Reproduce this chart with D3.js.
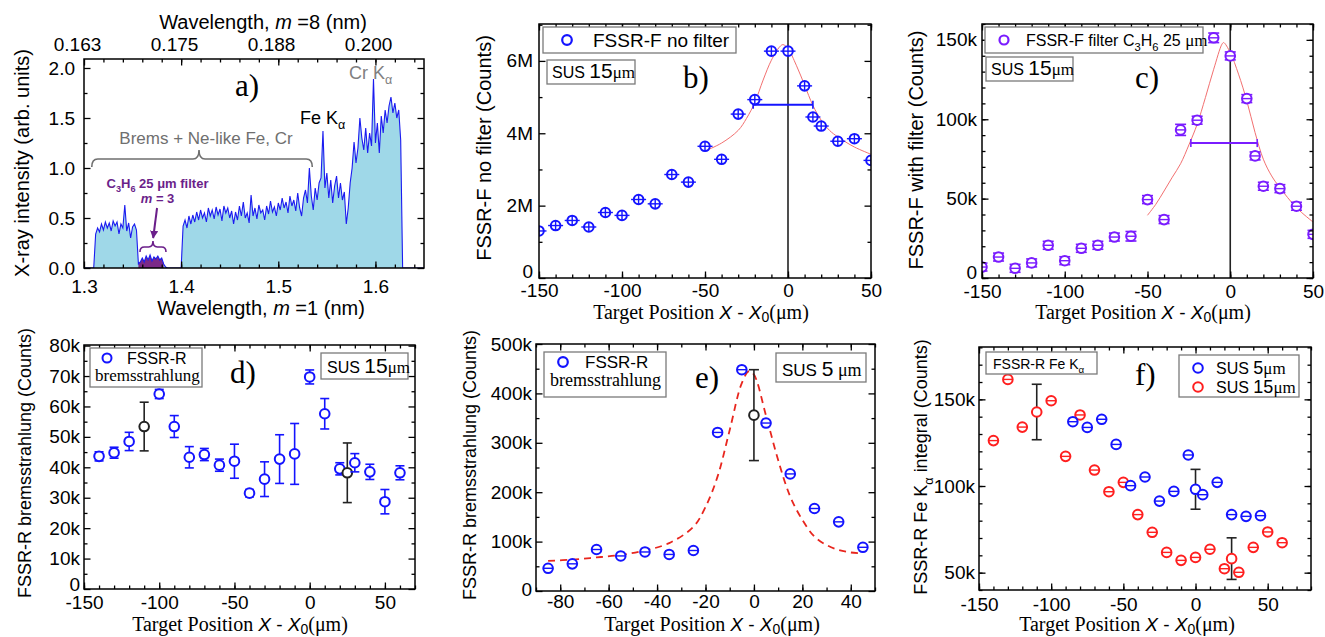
<!DOCTYPE html>
<html>
<head>
<meta charset="utf-8">
<script src="https://cdn.jsdelivr.net/npm/d3@7"></script>
<style>
  body { margin: 0; background: #fff; }
</style>
</head>
<body>
<svg id="fig" width="1325" height="637"></svg>
<script>
var SANS = '"Liberation Sans", Arial, sans-serif';
var SERIF = '"Liberation Serif", "Times New Roman", serif';

/* ---------- data ---------- */
// a) spectrum, m = 1 wavelength (nm) starting at specStart, one value per specStep
var specStart = 1.300, specStep = 0.002;
var specIntensity = [
  0, 0, 0, 0, 0, 0, 0.34, 0.40, 0.36, 0.44, 0.38, 0.46, 0.40, 0.45, 0.37, 0.47,
  0.42, 0.46, 0.34, 0.44, 0.40, 0.63, 0.37, 0.45, 0.30, 0.41, 0.44, 0.38, 0.04, 0.06,
  0.10, 0.06, 0.12, 0.08, 0.13, 0.07, 0.11, 0.09, 0.12, 0.08, 0.10, 0.04, 0.01, 0,
  0, 0, 0, 0, 0, 0, 0, 0.42, 0.48, 0.40, 0.52, 0.44, 0.53, 0.46, 0.56, 0.48,
  0.58, 0.50, 0.55, 0.46, 0.60, 0.52, 0.58, 0.49, 0.61, 0.53, 0.59, 0.47, 0.62, 0.55,
  0.60, 0.50, 0.57, 0.44, 0.56, 0.48, 0.62, 0.52, 0.66, 0.50, 0.55, 0.45, 0.73, 0.52,
  0.60, 0.49, 0.63, 0.55, 0.58, 0.48, 0.62, 0.54, 0.67, 0.56, 0.61, 0.52, 0.65, 0.58,
  0.70, 0.60, 0.66, 0.55, 0.72, 0.62, 0.68, 0.57, 0.75, 0.60, 0.52, 0.70, 0.78, 0.65,
  1.00, 0.72, 0.58, 0.80, 0.68, 0.85, 0.90, 1.37, 0.80, 0.95, 0.70, 0.88, 0.65, 0.82,
  0.92, 0.70, 0.85, 0.68, 0.76, 0.44, 0.60, 0.85, 1.00, 1.26, 1.05, 1.20, 1.50, 1.30,
  1.18, 1.40, 1.15, 1.35, 1.22, 1.89, 1.25, 1.45, 1.15, 1.52, 1.35, 1.58, 1.45, 1.62,
  1.71, 1.55, 1.65, 1.50, 1.58, 1.28, 0, 0, 0, 0, 0, 0, 0, 0, 0, 0, 0, 0
];
var filterBand = [1.356, 1.384];
var topTickValues = [0.1625, 0.175, 0.1875, 0.200];
var topTickLabels = ["0.163", "0.175", "0.188", "0.200"];

// b) FSSR-F no filter, SUS 15 um
var bPos = [-150, -140, -130, -120, -110, -100, -90, -80, -70, -60, -50, -40, -30, -20, -10, 0, 10, 15, 20, 30, 40, 50];
var bCounts = [1.30, 1.45, 1.59, 1.41, 1.81, 1.73, 2.17, 2.05, 2.86, 2.65, 3.64, 3.28, 4.53, 4.93, 6.27, 6.27, 5.31, 4.45, 4.20, 3.78, 3.85, 3.25]; // M
var bFitPos = [-50, -40, -30, -25, -20, -15, -10, -5, -3, 0, 5, 10, 15, 20, 25, 30, 40, 50];
var bFitCounts = [3.51, 3.73, 4.08, 4.41, 4.85, 5.47, 6.02, 6.39, 6.45, 6.34, 5.88, 5.33, 4.77, 4.36, 4.08, 3.90, 3.62, 3.42];
var bFwhm = [-21, 15], bFwhmLevel = 4.79;

// c) FSSR-F with C3H6 filter, SUS 15 um
var cPos = bPos;
var cCounts = [6.9, 13.2, 6.1, 9.5, 20.6, 10.9, 18.7, 20.6, 25.8, 26.3, 49.4, 36.8, 93.3, 99.4, 151.3, 139.9, 113.0, 76.9, 57.8, 56.3, 45.2, 27.5]; // k
var cErr = [2.5, 2.5, 2.5, 2.5, 2.5, 2.5, 2.5, 2.5, 2.5, 3, 2.5, 2.5, 3.5, 2.5, 3, 2.5, 2.5, 2.5, 2.5, 2.5, 2.5, 2.5];
var cFitPos = [-50, -45, -40, -35, -30, -25, -20, -15, -10, -5, -4, 0, 5, 10, 15, 20, 25, 30, 40, 50];
var cFitCounts = [39.5, 46.4, 54.8, 63.5, 72.0, 83.8, 96.8, 113.7, 131.5, 147.3, 148.3, 142, 128.4, 111.6, 91.6, 74.8, 64.3, 56.9, 44.3, 35.3];
var cFwhm = [-23.8, 16.3], cFwhmLevel = 85;

// d) FSSR-R bremsstrahlung, SUS 15 um
var dPos = [-140, -130, -120, -110, -100, -90, -80, -70, -60, -50, -40, -30, -20, -10, 0, 10, 20, 25, 30, 40, 50, 60];
var dCounts = [43.6, 44.8, 48.5, 53.4, 64.1, 53.4, 43.3, 44.2, 40.7, 42.0, 31.5, 36.1, 42.7, 44.4, 69.7, 57.6, 39.5, 38.2, 41.5, 38.5, 28.7, 38.2];
var dErr = [1.5, 1.8, 3.0, 8.0, 1.5, 3.6, 3.5, 2.0, 2.0, 5.6, 1.2, 5.7, 8.0, 10.0, 2.3, 5.0, 2.0, 9.8, 3.0, 2.5, 4.0, 2.3];
var dRefPos = [-110, 25];

// e) FSSR-R bremsstrahlung, SUS 5 um
var ePos = [-85, -75, -65, -55, -45, -35, -25, -15, -5, 0, 5, 15, 25, 35, 45];
var eCounts = [46, 55, 84, 71, 79, 74, 82, 321, 448, 356, 340, 237, 167, 140, 88.5];
var eErr = [0, 0, 0, 0, 0, 0, 0, 0, 0, 92, 0, 0, 0, 0, 0];
var eRefPos = [0];
var eFitPos = [-85, -75, -65, -55, -45, -35, -25, -20, -15, -10, -5, -2, 0, 5, 10, 15, 20, 25, 30, 35, 40, 45];
var eFitCounts = [61, 63.5, 68, 73, 82, 97, 130, 170, 232, 326, 421, 445, 438, 355, 265, 191, 144, 110, 93, 83, 78, 76];

// f) FSSR-R Fe K-alpha integral
var fBluePos = [-85, -75, -65, -55, -45, -35, -25, -15, -5, 0, 5, 15, 25, 35, 45];
var fBlueCounts = [137.1, 133.8, 138.5, 124.0, 100.2, 105.2, 91.3, 96.9, 117.9, 98.1, 95.0, 102.1, 83.5, 82.5, 82.9];
var fBlueErr = [0, 0, 0, 0, 0, 0, 0, 0, 0, 11.5, 0, 0, 0, 0, 0];
var fBlueRef = [0];
var fRedPos = [-140, -130, -120, -110, -100, -90, -80, -70, -60, -50, -40, -30, -20, -10, 0, 10, 20, 25, 30, 40, 50, 60];
var fRedCounts = [126.2, 161.5, 134.0, 142.7, 149.2, 117.1, 141.0, 109.2, 96.7, 102.1, 83.5, 73.3, 61.7, 57.1, 58.8, 63.5, 52.3, 58.1, 50.2, 64.6, 73.5, 67.3];
var fRedErr = [0, 0, 0, 16, 0, 0, 0, 0, 0, 0, 0, 0, 0, 0, 0, 0, 0, 12, 0, 0, 0, 0];
var fRedRef = [-110, 25];

/* ---------- helpers ---------- */
var svg = d3.select("#fig");
var BLUE = "#1414ff", VIOLET = "#7a1cff", RED = "#ff1f1f", FITRED = "#f27070";

function panel(id, box, xDom, yDom, t) {
    var x = d3.scaleLinear().domain(xDom).range([box.x0, box.x1]);
    var y = d3.scaleLinear().domain(yDom).range([box.y1, box.y0]);
    var g = svg.append("g").attr("class", "panel-" + id);
    svg.append("clipPath").attr("id", "clip-" + id).append("rect")
        .attr("x", box.x0).attr("y", box.y0)
        .attr("width", box.x1 - box.x0).attr("height", box.y1 - box.y0);
    var layer = g.append("g").attr("clip-path", "url(#clip-" + id + ")");
    var over = g.append("g");

    function ax(axis, tx, ty) {
        var a = g.append("g").attr("transform", "translate(" + tx + "," + ty + ")").call(axis);
        a.select(".domain").remove();
        a.selectAll(".tick line").attr("stroke", "#000").attr("stroke-width", 1.3);
        a.selectAll("text").attr("font-size", 19).attr("font-family", SANS).attr("fill", "#000");
        return a;
    }
    ax(d3.axisBottom(x).tickValues(t.xMinor).tickSize(-3.5).tickFormat(""), 0, box.y1);
    ax(d3.axisTop(x).tickValues(t.xMinor).tickSize(-3.5).tickFormat(""), 0, box.y0);
    ax(d3.axisLeft(y).tickValues(t.yMinor).tickSize(-3.5).tickFormat(""), box.x0, 0);
    ax(d3.axisRight(y).tickValues(t.yMinor).tickSize(-3.5).tickFormat(""), box.x1, 0);
    ax(d3.axisBottom(x).tickValues(t.xMajor).tickSize(-6.5).tickPadding(t.xPad).tickFormat(t.xFmt), 0, box.y1);
    ax(d3.axisTop(x).tickValues(t.xMajor).tickSize(-6.5).tickFormat(""), 0, box.y0);
    var yl = ax(d3.axisLeft(y).tickValues(t.yMajor).tickSize(-6.5).tickPadding(t.yPad).tickFormat(t.yFmt), box.x0, 0);
    // the lowest label sits a little raised, clear of the x labels
    yl.selectAll(".tick").filter(function (d) { return d === yDom[0] || d === 0; })
        .select("text").attr("y", -(t.zeroLift || 0));
    ax(d3.axisRight(y).tickValues(t.yMajor).tickSize(-6.5).tickFormat(""), box.x1, 0);

    g.append("rect").attr("x", box.x0).attr("y", box.y0)
        .attr("width", box.x1 - box.x0).attr("height", box.y1 - box.y0)
        .attr("fill", "none").attr("stroke", "#000").attr("stroke-width", 1.5);
    return { g: g, layer: layer, over: over, x: x, y: y, box: box };
}

// rich text: parts = [{t, serif, it, fs, sub}]
function rich(parent, x, y, fs, parts, o) {
    o = o || {};
    var t = parent.append("text").attr("x", x).attr("y", y)
        .attr("font-family", SANS).attr("font-size", fs)
        .attr("fill", o.fill || "#000").attr("text-anchor", o.anchor || "start");
    if (o.transform) t.attr("transform", o.transform);
    if (o.dy) t.attr("dy", o.dy);
    if (o.bold) t.attr("font-weight", "bold");
    var shift = 0, subShift = o.subShift || 0.3;
    parts.forEach(function (p) {
        var s = t.append("tspan").text(p.t);
        if (p.serif) s.attr("font-family", SERIF);
        if (p.it) s.attr("font-style", "italic");
        if (p.fs) s.attr("font-size", p.fs);
        var want = p.sub ? fs * subShift : 0;
        if (want !== shift) { s.attr("dy", want - shift); shift = want; }
        if (p.sub) s.attr("font-size", fs * 0.7);
    });
    return t;
}

function yTitle(cx, cy, fs, parts) {
    rich(svg, 0, 0, fs, parts, { anchor: "middle", dy: "0.35em",
        transform: "translate(" + cx + "," + cy + ") rotate(-90)" });
}

function posTitle(cx, baseline) {
    rich(svg, cx, baseline, 20, [
        { t: "Target Position ", serif: true },
        { t: "X", it: true, fs: 19 }, { t: " - ", fs: 19 }, { t: "X", it: true, fs: 19 },
        { t: "0", sub: true }, { t: "(\u03bcm)", serif: true }
    ], { anchor: "middle", subShift: 0.15 });
}

function boxText(x0, y0, x1, y1) {
    svg.append("rect").attr("x", x0).attr("y", y0).attr("width", x1 - x0).attr("height", y1 - y0)
        .attr("fill", "#fff").attr("stroke", "#7a7a7a").attr("stroke-width", 1.3);
}

function susLabel(x, y, num, big) {
    rich(svg, x, y, 16, [{ t: "SUS " }, { t: num, fs: big || 21 }, { t: "\u03bcm", serif: true, fs: 17 }]);
}

function panelTag(x, y, s) {
    svg.append("text").attr("x", x).attr("y", y).attr("font-family", SERIF)
        .attr("font-size", 31).text(s);
}

// draw open circles with optional error bars / inner strokes
function points(p, xs, vs, o) {
    var g = p.layer.append("g");
    xs.forEach(function (xv, i) {
        var isRef = o.ref ? o.ref.indexOf(xv) >= 0 : false;
        var col = isRef && o.refColor ? o.refColor : o.color;
        var ecol = isRef && o.refErrColor ? o.refErrColor : col;
        var cx = p.x(xv), cy = p.y(vs[i]);
        var e = o.err ? o.err[i] : 0;
        if (e > 0) {
            var yt = p.y(vs[i] + e), yb = p.y(vs[i] - e);
            var cw = o.cap || 4.5;
            g.append("line").attr("x1", cx).attr("x2", cx).attr("y1", yt).attr("y2", yb)
                .attr("stroke", ecol).attr("stroke-width", 1.6);
            [yt, yb].forEach(function (yy) {
                g.append("line").attr("x1", cx - cw).attr("x2", cx + cw).attr("y1", yy).attr("y2", yy)
                    .attr("stroke", ecol).attr("stroke-width", 1.6);
            });
        }
        g.append("circle").attr("cx", cx).attr("cy", cy).attr("r", o.r || 4.8)
            .attr("fill", "#fff").attr("stroke", col).attr("stroke-width", 2);
        if (!isRef && o.inner) {
            var hl = o.inner === "cross" ? 7.5 : (o.r || 4.8);
            g.append("line").attr("x1", cx - hl).attr("x2", cx + hl).attr("y1", cy).attr("y2", cy)
                .attr("stroke", col).attr("stroke-width", 1.4);
            if (o.inner === "cross") {
                g.append("line").attr("x1", cx).attr("x2", cx).attr("y1", cy - 4.8).attr("y2", cy + 4.8)
                    .attr("stroke", col).attr("stroke-width", 1.4);
            }
        }
    });
}

function fitLine(p, xs, vs, o) {
    var pts = xs.map(function (xv, i) { return [p.x(xv), p.y(vs[i])]; });
    var path = p.layer.append("path").datum(pts)
        .attr("d", d3.line().curve(d3.curveCatmullRom))
        .attr("fill", "none").attr("stroke", o.color).attr("stroke-width", o.w || 1);
    if (o.dash) path.attr("stroke-dasharray", o.dash);
}

function fwhm(p, range, level, col) {
    var yy = p.y(level), xa = p.x(range[0]), xb = p.x(range[1]);
    p.layer.append("line").attr("x1", xa).attr("x2", xb).attr("y1", yy).attr("y2", yy)
        .attr("stroke", col).attr("stroke-width", 2);
    [xa, xb].forEach(function (xx) {
        p.layer.append("line").attr("x1", xx).attr("x2", xx).attr("y1", yy - 4).attr("y2", yy + 4)
            .attr("stroke", col).attr("stroke-width", 1.6);
    });
}

function zeroLine(p) {
    p.layer.append("line").attr("x1", p.x(0)).attr("x2", p.x(0))
        .attr("y1", p.box.y0).attr("y2", p.box.y1).attr("stroke", "#222").attr("stroke-width", 1.6);
}

var kFmt = function (v) { return v === 0 ? "0" : v + "k"; };
var intFmt = function (v) { return String(v); };

/* ---------- a) spectrum ---------- */
var pa = panel("a", { x0: 84, x1: 424, y0: 59, y1: 268 }, [1.3, 1.65], [0, 2.09], {
    xMajor: [1.3, 1.4, 1.5, 1.6], xMinor: d3.range(1.32, 1.65, 0.02), xPad: 12, xFmt: d3.format(".1f"),
    yMajor: [0, 0.5, 1, 1.5, 2], yMinor: [0.25, 0.75, 1.25, 1.75], yPad: 9, yFmt: d3.format(".1f")
});
var spec = specIntensity.map(function (v, i) { return { w: specStart + i * specStep, v: v }; });
var specArea = d3.area().x(function (d) { return pa.x(d.w); }).y0(pa.y(0)).y1(function (d) { return pa.y(d.v); });
pa.layer.insert("path", ":first-child").datum(spec).attr("d", specArea).attr("fill", "#9fd8e8");
pa.layer.append("path").datum(spec.filter(function (d) { return d.w >= filterBand[0] && d.w <= filterBand[1]; }))
    .attr("d", specArea).attr("fill", "#7b2a88");
pa.layer.append("path").datum(spec)
    .attr("d", d3.line().x(function (d) { return pa.x(d.w); }).y(function (d) { return pa.y(d.v); }))
    .attr("fill", "none").attr("stroke", "#1b1bf0").attr("stroke-width", 1.1);

// top axis, m = 8
var xTop = d3.scaleLinear().domain([0.1634, 0.2072]).range([84, 424]);
var topAx = svg.append("g").attr("transform", "translate(0,59)")
    .call(d3.axisTop(xTop).tickValues(topTickValues).tickSize(0).tickPadding(8)
        .tickFormat(function (d, i) { return topTickLabels[i]; }));
topAx.select(".domain").remove();
topAx.selectAll("text").attr("font-size", 19).attr("font-family", SANS).attr("fill", "#000");

function brace(p, w1, w2, wm, vEnd, vMid, vTip, col) {
    var x1 = p.x(w1), x2 = p.x(w2), xm = p.x(wm);
    var ye = p.y(vEnd), ym = p.y(vMid), yt = p.y(vTip);
    var r = Math.min(6, (x2 - x1) / 6);
    var d = "M" + x1 + "," + ye + " Q" + x1 + "," + ym + " " + (x1 + r) + "," + ym +
        " L" + (xm - r) + "," + ym + " Q" + xm + "," + ym + " " + xm + "," + yt +
        " Q" + xm + "," + ym + " " + (xm + r) + "," + ym +
        " L" + (x2 - r) + "," + ym + " Q" + x2 + "," + ym + " " + x2 + "," + ye;
    p.over.append("path").attr("d", d).attr("fill", "none").attr("stroke", col).attr("stroke-width", 1.6);
}
brace(pa, 1.308, 1.535, 1.4184, 1.01, 1.09, 1.18, "#6f6f6f");
brace(pa, 1.3576, 1.3844, 1.371, 0.16, 0.21, 0.27, "#6b1f8a");

svg.append("defs").append("marker").attr("id", "arrowP").attr("viewBox", "0 -5 10 10")
    .attr("refX", 9).attr("refY", 0).attr("markerWidth", 4).attr("markerHeight", 4).attr("orient", "auto")
    .append("path").attr("d", "M0,-5 L10,0 L0,5 Z").attr("fill", "#6b1f8a");
pa.over.append("line").attr("x1", pa.x(1.3752)).attr("y1", pa.y(0.60))
    .attr("x2", pa.x(1.3712)).attr("y2", pa.y(0.30))
    .attr("stroke", "#6b1f8a").attr("stroke-width", 2).attr("marker-end", "url(#arrowP)");

rich(pa.over, pa.x(1.4256), pa.y(1.24), 17, [{ t: "Brems + Ne-like Fe, Cr" }], { anchor: "middle", fill: "#6f6f6f" });
rich(pa.over, pa.x(1.5224), pa.y(1.44), 18, [{ t: "Fe K" }, { t: "\u03b1", sub: true }]);
rich(pa.over, pa.x(1.5728), pa.y(1.89), 18, [{ t: "Cr K" }, { t: "\u03b1", sub: true }], { fill: "#808080" });
rich(pa.over, pa.x(1.3757), pa.y(0.80), 13, [{ t: "C" }, { t: "3", sub: true }, { t: "H" }, { t: "6", sub: true }, { t: " 25 \u03bcm filter" }],
    { anchor: "middle", fill: "#6b1f8a", bold: true });
rich(pa.over, pa.x(1.3757), pa.y(0.65), 13, [{ t: "m", it: true }, { t: " = 3" }],
    { anchor: "middle", fill: "#6b1f8a", bold: true });
panelTag(235, 96, "a)");

yTitle(22, 163, 20, [{ t: "X-ray intensity (arb. units)" }]);
rich(svg, 261, 315, 20, [{ t: "Wavelength, " }, { t: "m", it: true }, { t: " =1 (nm)" }], { anchor: "middle" });
rich(svg, 263, 29, 20, [{ t: "Wavelength, " }, { t: "m", it: true }, { t: " =8 (nm)" }], { anchor: "middle" });

/* ---------- b) ---------- */
var pb = panel("b", { x0: 539, x1: 871, y0: 24, y1: 278 }, [-150, 50], [0, 7.02], {
    xMajor: [-150, -100, -50, 0, 50], xMinor: d3.range(-150, 51, 10), xPad: 6, xFmt: intFmt,
    yMajor: [0, 2, 4, 6], yMinor: [1, 3, 5, 7], yPad: 6, zeroLift: 7,
    yFmt: function (v) { return v === 0 ? "0" : v + "M"; }
});
zeroLine(pb);
fitLine(pb, bFitPos, bFitCounts, { color: FITRED });
fwhm(pb, bFwhm, bFwhmLevel, BLUE);
points(pb, bPos, bCounts, { color: BLUE, inner: "cross" });
boxText(543, 27, 736, 53);
svg.append("circle").attr("cx", 567).attr("cy", 40).attr("r", 4.8).attr("fill", "none").attr("stroke", BLUE).attr("stroke-width", 2.2);
rich(svg, 593, 47, 19, [{ t: "FSSR-F no filter" }]);
boxText(547, 60, 635, 84);
susLabel(552, 78, "15");
panelTag(683, 88, "b)");
yTitle(484, 148, 20, [{ t: "FSSR-F no filter (Counts)" }]);
posTitle(701, 319);

/* ---------- c) ---------- */
var pc = panel("c", { x0: 982, x1: 1313, y0: 24, y1: 278 }, [-150, 50], [0, 160], {
    xMajor: [-150, -100, -50, 0, 50], xMinor: d3.range(-150, 51, 10), xPad: 7, xFmt: intFmt,
    yMajor: [0, 50, 100, 150], yMinor: d3.range(0, 161, 10), yPad: 5, zeroLift: 6, yFmt: kFmt
});
zeroLine(pc);
fitLine(pc, cFitPos, cFitCounts, { color: FITRED });
fwhm(pc, cFwhm, cFwhmLevel, VIOLET);
points(pc, cPos, cCounts, { color: VIOLET, err: cErr, inner: "h", cap: 5.5 });
boxText(985, 27, 1203, 53);
svg.append("circle").attr("cx", 1004).attr("cy", 40).attr("r", 4.5).attr("fill", "none").attr("stroke", VIOLET).attr("stroke-width", 2.2);
rich(svg, 1026, 46, 16, [{ t: "FSSR-F filter C" }, { t: "3", sub: true }, { t: "H" }, { t: "6", sub: true }, { t: " 25 " }, { t: "\u03bcm", serif: true, fs: 17 }]);
boxText(986, 57, 1073, 81);
susLabel(991, 75, "15");
panelTag(1135, 88, "c)");
yTitle(916, 150, 20, [{ t: "FSSR-F with filter (Counts)" }]);
posTitle(1143, 319);

/* ---------- d) ---------- */
var pd = panel("d", { x0: 84, x1: 415, y0: 345, y1: 589 }, [-150, 70], [0, 80.2], {
    xMajor: [-150, -100, -50, 0, 50], xMinor: d3.range(-150, 71, 10), xPad: 7, xFmt: intFmt,
    yMajor: d3.range(0, 81, 10), yMinor: d3.range(5, 80, 10), yPad: 4, zeroLift: 5, yFmt: kFmt
});
points(pd, dPos, dCounts, { color: BLUE, err: dErr, ref: dRefPos, refColor: "#222", refErrColor: "#222" });
boxText(90, 348, 202, 387);
svg.append("circle").attr("cx", 107).attr("cy", 358).attr("r", 4.5).attr("fill", "none").attr("stroke", BLUE).attr("stroke-width", 2);
rich(svg, 127, 364, 16, [{ t: "FSSR-R" }]);
rich(svg, 95, 381, 17, [{ t: "bremsstrahlung", serif: true }]);
boxText(321, 353, 408, 379);
susLabel(327, 373, "15");
panelTag(230, 383, "d)");
yTitle(25, 463, 18, [{ t: "FSSR-R bremsstrahlung (Counts)" }]);
posTitle(240, 631);

/* ---------- e) ---------- */
var pe = panel("e", { x0: 536, x1: 875, y0: 344, y1: 591 }, [-90, 50], [0, 500], {
    xMajor: d3.range(-80, 41, 20), xMinor: d3.range(-90, 51, 10), xPad: 4, xFmt: intFmt,
    yMajor: d3.range(0, 501, 100), yMinor: d3.range(50, 500, 100), yPad: 4, zeroLift: 2, yFmt: kFmt
});
fitLine(pe, eFitPos, eFitCounts, { color: "#e8261e", w: 1.8, dash: "7,5" });
points(pe, ePos, eCounts, { color: BLUE, err: eErr, ref: eRefPos, refColor: "#222", refErrColor: "#222", inner: "h", cap: 5 });
boxText(544, 352, 666, 397);
svg.append("circle").attr("cx", 563).attr("cy", 362).attr("r", 4.8).attr("fill", "none").attr("stroke", BLUE).attr("stroke-width", 2.2);
rich(svg, 585, 368, 17, [{ t: "FSSR-R" }]);
rich(svg, 550, 386, 18, [{ t: "bremsstrahlung", serif: true }]);
boxText(776, 353, 866, 382);
rich(svg, 782, 376, 17, [{ t: "SUS " }, { t: "5", fs: 21 }, { t: " \u03bcm", serif: true, fs: 18 }]);
panelTag(695, 388, "e)");
yTitle(470, 465, 18, [{ t: "FSSR-R bremsstrahlung (Counts)" }]);
posTitle(712, 631);

/* ---------- f) ---------- */
var pf = panel("f", { x0: 979, x1: 1311, y0: 347, y1: 590 }, [-150, 80], [40, 180.2], {
    xMajor: [-150, -100, -50, 0, 50], xMinor: d3.range(-150, 81, 10), xPad: 8, xFmt: intFmt,
    yMajor: [50, 100, 150], yMinor: d3.range(40, 181, 10), yPad: 4, yFmt: kFmt
});
points(pf, fRedPos, fRedCounts, { color: RED, err: fRedErr, ref: fRedRef, refErrColor: "#222", inner: "h", cap: 5 });
points(pf, fBluePos, fBlueCounts, { color: BLUE, err: fBlueErr, ref: fBlueRef, refErrColor: "#222", inner: "h", cap: 5 });
boxText(986, 352, 1097, 374);
rich(svg, 993, 369, 14, [{ t: "FSSR-R  Fe K" }, { t: "\u03b1", sub: true }]);
boxText(1179, 355, 1299, 397);
svg.append("circle").attr("cx", 1198).attr("cy", 368).attr("r", 4.8).attr("fill", "none").attr("stroke", BLUE).attr("stroke-width", 2);
svg.append("circle").attr("cx", 1198).attr("cy", 387).attr("r", 4.8).attr("fill", "none").attr("stroke", RED).attr("stroke-width", 2);
susLabel(1216, 374, "5", 18);
susLabel(1216, 393, "15", 18);
panelTag(1135, 385, "f)");
yTitle(921, 467, 18, [{ t: "FSSR-R Fe K" }, { t: "\u03b1", sub: true }, { t: " integral (Counts)" }]);
posTitle(1127, 631);
</script>
</body>
</html>
